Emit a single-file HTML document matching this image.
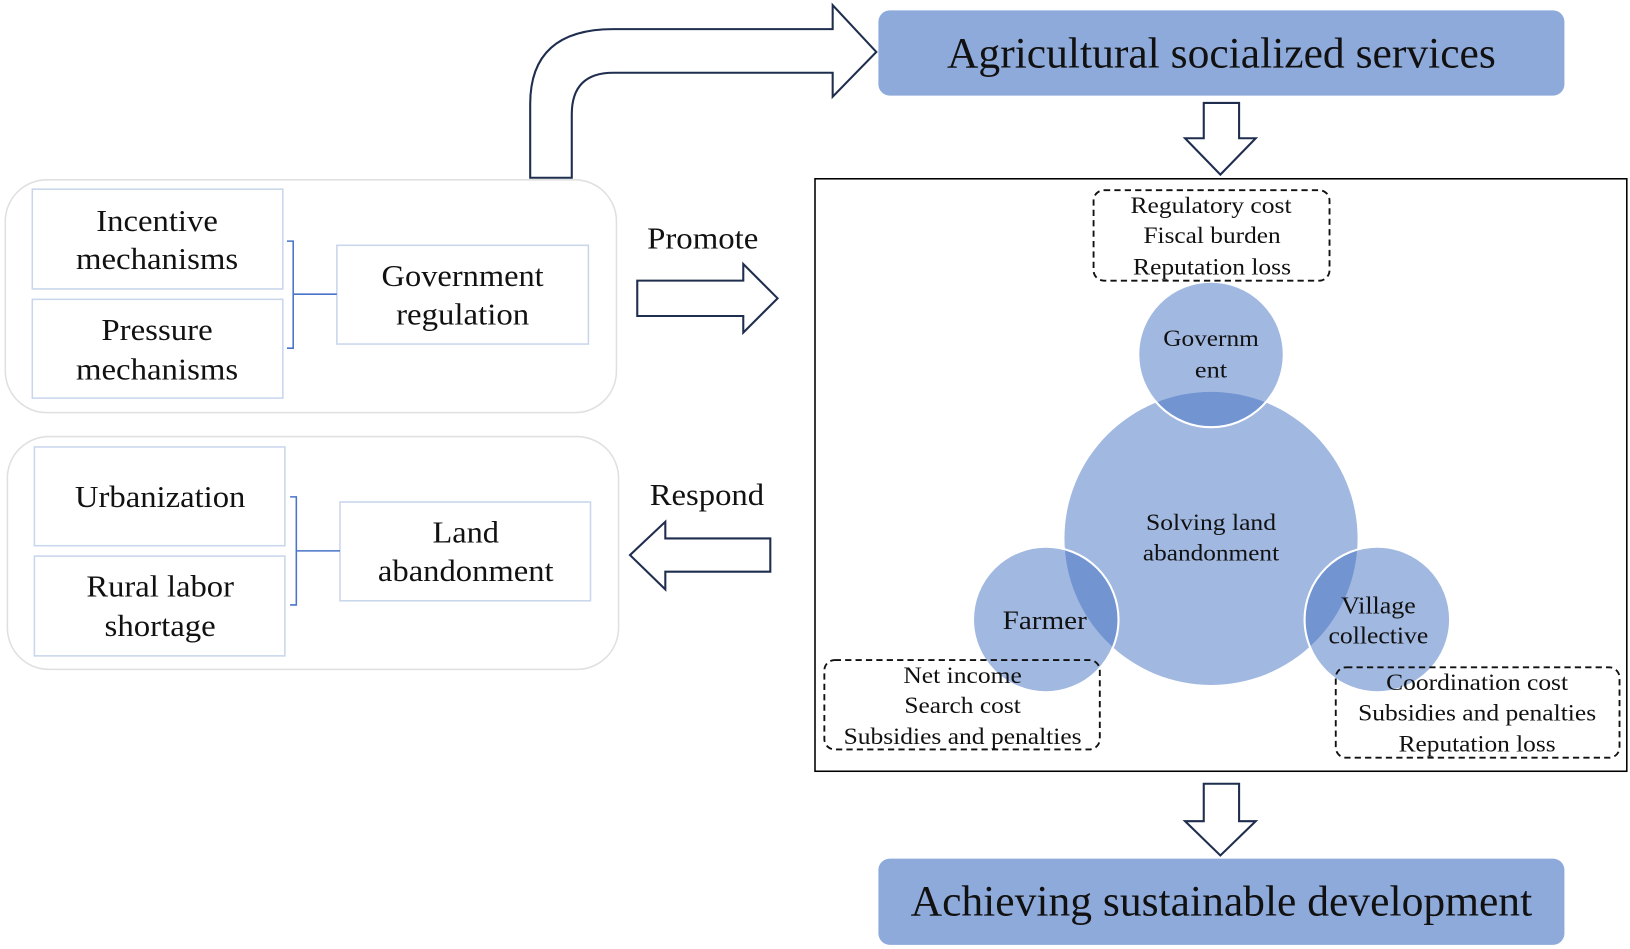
<!DOCTYPE html>
<html><head><meta charset="utf-8"><style>
html,body{margin:0;padding:0;background:#fff;width:1630px;height:949px;overflow:hidden}
svg{display:block;font-family:"Liberation Serif",serif}
</style></head><body>
<svg width="1630" height="949" viewBox="0 0 1568 913" xmlns="http://www.w3.org/2000/svg">
<rect x="845" y="10" width="660" height="82" rx="11" fill="#8eaadb"/>
<text x="1175" y="65" font-size="42" text-anchor="middle" fill="#111" textLength="528" lengthAdjust="spacingAndGlyphs">Agricultural socialized services</text>
<rect x="845" y="826" width="660" height="83" rx="11" fill="#8eaadb"/>
<text x="1175" y="881" font-size="42" text-anchor="middle" fill="#111" textLength="598" lengthAdjust="spacingAndGlyphs">Achieving sustainable development</text>

<path d="M510,171 L510,100 Q510,28 590,28 L801,28 L801,5 L843,50 L801,93 L801,70 L590,70 Q550,70 550,110 L550,171 Z" fill="#fff" stroke="#1f2d4e" stroke-width="2"/>

<path d="M1158,99 L1192,99 L1192,133 L1208,133 L1174,168 L1140,133 L1158,133 Z" fill="#fff" stroke="#1f2d4e" stroke-width="2"/>
<path d="M1158,754 L1192,754 L1192,790 L1208,790 L1174,823 L1140,790 L1158,790 Z" fill="#fff" stroke="#1f2d4e" stroke-width="2"/>

<rect x="784" y="172" width="781" height="570" fill="#fff" stroke="#000" stroke-width="1.5"/>

<rect x="5" y="173" width="588" height="224" rx="40" fill="#fff" stroke="#e0e0e0" stroke-width="1.5"/>
<rect x="7" y="420" width="588" height="224" rx="40" fill="#fff" stroke="#e0e0e0" stroke-width="1.5"/>
<g fill="#fff" stroke="#c9d6ec" stroke-width="1.5">
<rect x="31" y="182" width="241" height="96"/>
<rect x="31" y="288" width="241" height="95"/>
<rect x="324" y="236" width="242" height="95"/>
<rect x="33" y="430" width="241" height="95"/>
<rect x="33" y="535" width="241" height="96"/>
<rect x="327" y="483" width="241" height="95"/>
</g>
<g fill="none" stroke="#4a74c9" stroke-width="1.5">
<path d="M276,232 L282,232 L282,335 L276,335 M282,283 L324,283"/>
<path d="M279,478 L285,478 L285,582 L279,582 M285,530 L327,530"/>
</g>
<g font-size="29" text-anchor="middle" fill="#111" lengthAdjust="spacingAndGlyphs">
<text x="151" y="222" textLength="117" lengthAdjust="spacingAndGlyphs">Incentive</text>
<text x="151" y="259" textLength="156" lengthAdjust="spacingAndGlyphs">mechanisms</text>
<text x="151" y="327" textLength="107" lengthAdjust="spacingAndGlyphs">Pressure</text>
<text x="151" y="365" textLength="156" lengthAdjust="spacingAndGlyphs">mechanisms</text>
<text x="445" y="275" textLength="156" lengthAdjust="spacingAndGlyphs">Government</text>
<text x="445" y="312" textLength="128" lengthAdjust="spacingAndGlyphs">regulation</text>
<text x="154" y="488" textLength="164" lengthAdjust="spacingAndGlyphs">Urbanization</text>
<text x="154" y="574" textLength="142" lengthAdjust="spacingAndGlyphs">Rural labor</text>
<text x="154" y="612" textLength="107" lengthAdjust="spacingAndGlyphs">shortage</text>
<text x="448" y="522" textLength="64" lengthAdjust="spacingAndGlyphs">Land</text>
<text x="448" y="559" textLength="169" lengthAdjust="spacingAndGlyphs">abandonment</text>
<text x="676" y="239" textLength="107" lengthAdjust="spacingAndGlyphs">Promote</text>
<text x="680" y="486" textLength="110" lengthAdjust="spacingAndGlyphs">Respond</text>
</g>
<path d="M613,270 L715,270 L715,254 L748,287 L715,320 L715,304 L613,304 Z" fill="#fff" stroke="#1f2d4e" stroke-width="2"/>
<path d="M741,518 L640,518 L640,502 L606,534 L640,567 L640,550 L741,550 Z" fill="#fff" stroke="#1f2d4e" stroke-width="2"/>

<g fill="#4472c4" fill-opacity="0.5">
<circle cx="1165" cy="518" r="141"/>
<circle cx="1165" cy="341" r="70"/>
<circle cx="1006" cy="596" r="70"/>
<circle cx="1325" cy="596" r="70"/>
</g>
<g fill="none" stroke="#fff" stroke-width="2">
<circle cx="1165" cy="341" r="70"/>
<circle cx="1006" cy="596" r="70"/>
<circle cx="1325" cy="596" r="70"/>
</g>

<g fill="none" stroke="#111" stroke-width="1.8" stroke-dasharray="6,4">
<rect x="1052" y="183" width="227" height="87" rx="10"/>
<rect x="793" y="635" width="265" height="86" rx="10"/>
<rect x="1285" y="642" width="273" height="87" rx="10"/>
</g>
<g font-size="22" text-anchor="middle" fill="#111">
<text x="1165" y="205" textLength="155" lengthAdjust="spacingAndGlyphs">Regulatory cost</text>
<text x="1166" y="234" textLength="132" lengthAdjust="spacingAndGlyphs">Fiscal burden</text>
<text x="1166" y="264" textLength="152" lengthAdjust="spacingAndGlyphs">Reputation loss</text>
<text x="926" y="657" textLength="114" lengthAdjust="spacingAndGlyphs">Net income</text>
<text x="926" y="686" textLength="112" lengthAdjust="spacingAndGlyphs">Search cost</text>
<text x="926" y="716" textLength="229" lengthAdjust="spacingAndGlyphs">Subsidies and penalties</text>
<text x="1421" y="664" textLength="175" lengthAdjust="spacingAndGlyphs">Coordination cost</text>
<text x="1421" y="693" textLength="229" lengthAdjust="spacingAndGlyphs">Subsidies and penalties</text>
<text x="1421" y="723" textLength="151" lengthAdjust="spacingAndGlyphs">Reputation loss</text>
<text x="1165" y="333" textLength="92" lengthAdjust="spacingAndGlyphs">Governm</text>
<text x="1165" y="363" textLength="31" lengthAdjust="spacingAndGlyphs">ent</text>
<text x="1165" y="510" textLength="125" lengthAdjust="spacingAndGlyphs">Solving land</text>
<text x="1165" y="539" textLength="131" lengthAdjust="spacingAndGlyphs">abandonment</text>
<text x="1326" y="590" font-size="23" textLength="72" lengthAdjust="spacingAndGlyphs">Village</text>
<text x="1326" y="619" font-size="23" textLength="96" lengthAdjust="spacingAndGlyphs">collective</text>
<text x="1005" y="605" font-size="25" textLength="81" lengthAdjust="spacingAndGlyphs">Farmer</text>
</g>
</svg>
</body></html>
